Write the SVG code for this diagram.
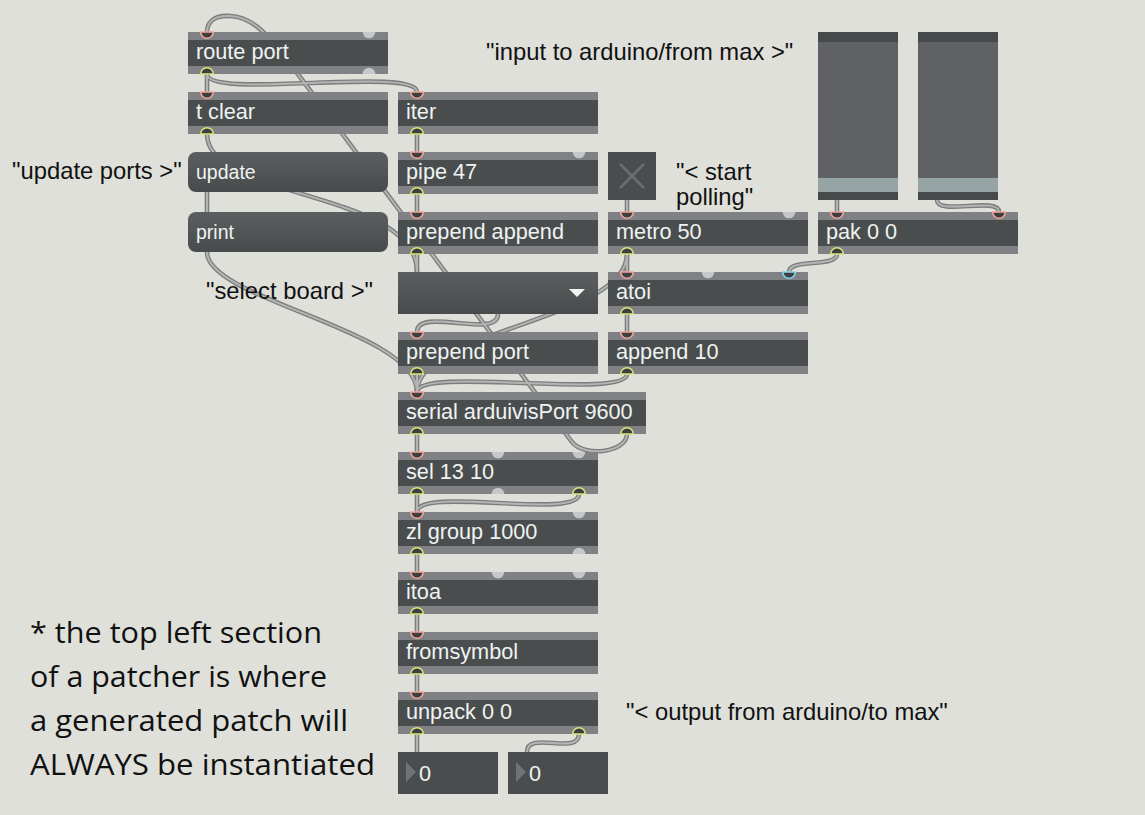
<svg xmlns="http://www.w3.org/2000/svg" xmlns:xlink="http://www.w3.org/1999/xlink" width="1145" height="815" viewBox="0 0 1145 815">
<style>
.band{fill:#7f8184}
.mid{fill:#4a4d4d}
.bt{font-family:"Liberation Sans",Arial,sans-serif;font-size:21.7px;fill:#eef3f3}
.mt{font-family:"Liberation Sans",Arial,sans-serif;font-size:19.5px;fill:#eef3f3}
.cm{font-family:"Liberation Sans",Arial,sans-serif;font-size:23.8px;fill:#111}
.note{font-family:"Open Sans",Lato,sans-serif;font-size:28.5px;fill:#111}
.pi{fill:#3d4040;stroke:#f2a49c;stroke-width:1.6}
.yo{fill:#3d4040;stroke:#dde27c;stroke-width:1.6}
.cy{fill:#3d4040;stroke:#86d8ea;stroke-width:1.6}
.gr{fill:#c6c7c8}
.co{fill:none;stroke:#7c7e7e;stroke-width:4.6;stroke-linecap:round}
.ci{fill:none;stroke:#b3b5b5;stroke-width:2}
</style>
<defs>
<path id="inl" d="M-6.3,0 A6.3,6.3 0 0 0 6.3,0 Z"/>
<path id="outl" d="M-6.3,0 A6.3,6.3 0 0 1 6.3,0 Z"/>
<linearGradient id="msg" x1="0" y1="0" x2="0" y2="1">
<stop offset="0" stop-color="#5c5f60"/>
<stop offset="1" stop-color="#484b4b"/>
</linearGradient>
<path id="c1" d="M207,74 L207,92"/>
<path id="c2" d="M207,74 C207,100 417,66 417,92"/>
<path id="c3" d="M627,434 C627,452 585,458 572,442 L297,73 C275,45 258,17 230,16 C212,15 207,24 207,32"/>
<path id="c4" d="M207,134 C207,200 417,190 417,272"/>
<path id="c5" d="M207,192 L207,212"/>
<path id="c6" d="M207,252 C207,300 417,330 417,392"/>
<path id="c7" d="M417,134 L417,152"/>
<path id="c8" d="M417,194 L417,212"/>
<path id="c9" d="M417,254 L417,272"/>
<path id="c10" d="M498,314 C498,340 417,306 417,332"/>
<path id="c11" d="M417,374 L417,392"/>
<path id="c12" d="M627,200 L627,212"/>
<path id="c13" d="M627,254 L627,272"/>
<path id="c14" d="M627,254 C627,320 417,330 417,392"/>
<path id="c15" d="M837,254 C837,268 789,258 789,272"/>
<path id="c16" d="M627,314 L627,332"/>
<path id="c17" d="M627,374 C627,400 417,366 417,392"/>
<path id="c18" d="M417,434 L417,452"/>
<path id="c19" d="M417,494 L417,512"/>
<path id="c20" d="M579,494 C579,520 417,486 417,512"/>
<path id="c21" d="M417,554 L417,572"/>
<path id="c22" d="M417,614 L417,632"/>
<path id="c23" d="M417,674 L417,692"/>
<path id="c24" d="M417,734 L417,752"/>
<path id="c25" d="M579,734 C579,756 527,730 527,752"/>
<path id="c26" d="M837,200 L837,212"/>
<path id="c27" d="M937,200 C937,216 999,196 999,212"/>
</defs>
<rect x="0" y="0" width="1145" height="815" fill="#dfe0da"/>

<g id="connectors">
<g class="co">
<use href="#c1"/><use href="#c2"/><use href="#c3"/><use href="#c4"/><use href="#c5"/><use href="#c6"/><use href="#c7"/><use href="#c8"/><use href="#c9"/><use href="#c10"/><use href="#c11"/><use href="#c12"/><use href="#c13"/><use href="#c14"/><use href="#c15"/><use href="#c16"/><use href="#c17"/><use href="#c18"/><use href="#c19"/><use href="#c20"/><use href="#c21"/><use href="#c22"/><use href="#c23"/><use href="#c24"/><use href="#c25"/><use href="#c26"/><use href="#c27"/>
</g>
<g class="ci">
<use href="#c1"/><use href="#c2"/><use href="#c3"/><use href="#c4"/><use href="#c5"/><use href="#c6"/><use href="#c7"/><use href="#c8"/><use href="#c9"/><use href="#c10"/><use href="#c11"/><use href="#c12"/><use href="#c13"/><use href="#c14"/><use href="#c15"/><use href="#c16"/><use href="#c17"/><use href="#c18"/><use href="#c19"/><use href="#c20"/><use href="#c21"/><use href="#c22"/><use href="#c23"/><use href="#c24"/><use href="#c25"/><use href="#c26"/><use href="#c27"/>
</g>
</g>

<g id="route-port">
<rect class="band" x="188" y="32" width="200" height="42"/><rect class="mid" x="188" y="40" width="200" height="26"/>
<text class="bt" x="196" y="59">route port</text>
<use href="#inl" x="207" y="32" class="pi"/><use href="#inl" x="369" y="32" class="gr"/>
<use href="#outl" x="207" y="74" class="yo"/><use href="#outl" x="369" y="74" class="gr"/>
</g>
<g id="t-clear">
<rect class="band" x="188" y="92" width="200" height="42"/><rect class="mid" x="188" y="100" width="200" height="26"/>
<text class="bt" x="196" y="119">t clear</text>
<use href="#inl" x="207" y="92" class="pi"/><use href="#outl" x="207" y="134" class="yo"/>
</g>
<g id="iter">
<rect class="band" x="398" y="92" width="200" height="42"/><rect class="mid" x="398" y="100" width="200" height="26"/>
<text class="bt" x="406" y="119">iter</text>
<use href="#inl" x="417" y="92" class="pi"/><use href="#outl" x="417" y="134" class="yo"/>
</g>
<g id="update">
<rect x="188" y="152" width="200" height="40" rx="8" fill="url(#msg)"/>
<text class="mt" x="196" y="179">update</text>
</g>
<g id="print">
<rect x="188" y="212" width="200" height="40" rx="8" fill="url(#msg)"/>
<text class="mt" x="196" y="239">print</text>
</g>
<g id="pipe">
<rect class="band" x="398" y="152" width="200" height="42"/><rect class="mid" x="398" y="160" width="200" height="26"/>
<text class="bt" x="406" y="179">pipe 47</text>
<use href="#inl" x="417" y="152" class="pi"/><use href="#inl" x="579" y="152" class="gr"/>
<use href="#outl" x="417" y="194" class="yo"/>
</g>
<g id="prepend-append">
<rect class="band" x="398" y="212" width="200" height="42"/><rect class="mid" x="398" y="220" width="200" height="26"/>
<text class="bt" x="406" y="239">prepend append</text>
<use href="#inl" x="417" y="212" class="pi"/><use href="#outl" x="417" y="254" class="yo"/>
</g>
<g id="umenu">
<rect x="398" y="272" width="200" height="42" fill="url(#msg)"/>
<path d="M569,289 L585,289 L577,297 Z" fill="#f2f4f4"/>
</g>
<g id="prepend-port">
<rect class="band" x="398" y="332" width="200" height="42"/><rect class="mid" x="398" y="340" width="200" height="26"/>
<text class="bt" x="406" y="359">prepend port</text>
<use href="#inl" x="417" y="332" class="pi"/><use href="#outl" x="417" y="374" class="yo"/>
</g>
<g id="serial">
<rect class="band" x="398" y="392" width="248" height="42"/><rect class="mid" x="398" y="400" width="248" height="26"/>
<text class="bt" x="406" y="419">serial arduivisPort 9600</text>
<use href="#inl" x="417" y="392" class="pi"/>
<use href="#outl" x="417" y="434" class="yo"/><use href="#outl" x="627" y="434" class="yo"/>
</g>
<g id="sel">
<rect class="band" x="398" y="452" width="200" height="42"/><rect class="mid" x="398" y="460" width="200" height="26"/>
<text class="bt" x="406" y="479">sel 13 10</text>
<use href="#inl" x="417" y="452" class="pi"/><use href="#inl" x="498" y="452" class="gr"/><use href="#inl" x="579" y="452" class="gr"/>
<use href="#outl" x="417" y="494" class="yo"/><use href="#outl" x="498" y="494" class="gr"/><use href="#outl" x="579" y="494" class="yo"/>
</g>
<g id="zl-group">
<rect class="band" x="398" y="512" width="200" height="42"/><rect class="mid" x="398" y="520" width="200" height="26"/>
<text class="bt" x="406" y="539">zl group 1000</text>
<use href="#inl" x="417" y="512" class="pi"/><use href="#inl" x="579" y="512" class="gr"/>
<use href="#outl" x="417" y="554" class="yo"/><use href="#outl" x="579" y="554" class="gr"/>
</g>
<g id="itoa">
<rect class="band" x="398" y="572" width="200" height="42"/><rect class="mid" x="398" y="580" width="200" height="26"/>
<text class="bt" x="406" y="599">itoa</text>
<use href="#inl" x="417" y="572" class="pi"/><use href="#inl" x="498" y="572" class="gr"/><use href="#inl" x="579" y="572" class="gr"/>
<use href="#outl" x="417" y="614" class="yo"/>
</g>
<g id="fromsymbol">
<rect class="band" x="398" y="632" width="200" height="42"/><rect class="mid" x="398" y="640" width="200" height="26"/>
<text class="bt" x="406" y="659">fromsymbol</text>
<use href="#inl" x="417" y="632" class="pi"/><use href="#outl" x="417" y="674" class="yo"/>
</g>
<g id="unpack">
<rect class="band" x="398" y="692" width="200" height="42"/><rect class="mid" x="398" y="700" width="200" height="26"/>
<text class="bt" x="406" y="719">unpack 0 0</text>
<use href="#inl" x="417" y="692" class="pi"/>
<use href="#outl" x="417" y="734" class="yo"/><use href="#outl" x="579" y="734" class="yo"/>
</g>
<g id="number-1">
<rect class="mid" x="398" y="752" width="100" height="42"/>
<path d="M406,762 L416,772 L406,782 Z" fill="#6f7373"/>
<text class="bt" x="419" y="781">0</text>
</g>
<g id="number-2">
<rect class="mid" x="508" y="752" width="100" height="42"/>
<path d="M516,762 L526,772 L516,782 Z" fill="#6f7373"/>
<text class="bt" x="529" y="781">0</text>
</g>
<g id="toggle">
<rect class="mid" x="608" y="152" width="48" height="48"/>
<path d="M620,164 L644,188 M644,164 L620,188" stroke="#6b6e6f" stroke-width="2.6" fill="none"/>
</g>
<g id="metro">
<rect class="band" x="608" y="212" width="200" height="42"/><rect class="mid" x="608" y="220" width="200" height="26"/>
<text class="bt" x="616" y="239">metro 50</text>
<use href="#inl" x="627" y="212" class="pi"/><use href="#inl" x="789" y="212" class="gr"/>
<use href="#outl" x="627" y="254" class="yo"/>
</g>
<g id="atoi">
<rect class="band" x="608" y="272" width="200" height="42"/><rect class="mid" x="608" y="280" width="200" height="26"/>
<text class="bt" x="616" y="299">atoi</text>
<use href="#inl" x="627" y="272" class="pi"/><use href="#inl" x="708" y="272" class="gr"/><use href="#inl" x="789" y="272" class="cy"/>
<use href="#outl" x="627" y="314" class="yo"/>
</g>
<g id="append">
<rect class="band" x="608" y="332" width="200" height="42"/><rect class="mid" x="608" y="340" width="200" height="26"/>
<text class="bt" x="616" y="359">append 10</text>
<use href="#inl" x="627" y="332" class="pi"/><use href="#outl" x="627" y="374" class="yo"/>
</g>
<g id="slider-1">
<rect x="818" y="32" width="80" height="168" fill="#5f6165"/>
<rect x="818" y="32" width="80" height="10" fill="#474a4a"/>
<rect x="818" y="178" width="80" height="14" fill="#97a4a5"/>
<rect x="818" y="192" width="80" height="8" fill="#474a4a"/>
</g>
<g id="slider-2">
<rect x="918" y="32" width="80" height="168" fill="#5f6165"/>
<rect x="918" y="32" width="80" height="10" fill="#474a4a"/>
<rect x="918" y="178" width="80" height="14" fill="#97a4a5"/>
<rect x="918" y="192" width="80" height="8" fill="#474a4a"/>
</g>
<g id="pak">
<rect class="band" x="818" y="212" width="200" height="42"/><rect class="mid" x="818" y="220" width="200" height="26"/>
<text class="bt" x="826" y="239">pak 0 0</text>
<use href="#inl" x="837" y="212" class="pi"/><use href="#inl" x="999" y="212" class="pi"/>
<use href="#outl" x="837" y="254" class="yo"/>
</g>

<g id="comments">
<text class="cm" x="486" y="60">"input to arduino/from max &gt;"</text>
<text class="cm" x="12" y="179">"update ports &gt;"</text>
<text class="cm" x="206" y="299">"select board &gt;"</text>
<text class="cm" x="676" y="180">"&lt; start</text>
<text class="cm" x="676" y="205">polling"</text>
<text class="cm" x="626" y="720">"&lt; output from arduino/to max"</text>
<text class="note" x="30" y="643" textLength="292" lengthAdjust="spacingAndGlyphs">* the top left section</text>
<text class="note" x="30" y="687" textLength="297" lengthAdjust="spacingAndGlyphs">of a patcher is where</text>
<text class="note" x="30" y="731" textLength="318" lengthAdjust="spacingAndGlyphs">a generated patch will</text>
<text class="note" x="30" y="775" textLength="345" lengthAdjust="spacingAndGlyphs">ALWAYS be instantiated</text>
</g>
</svg>
